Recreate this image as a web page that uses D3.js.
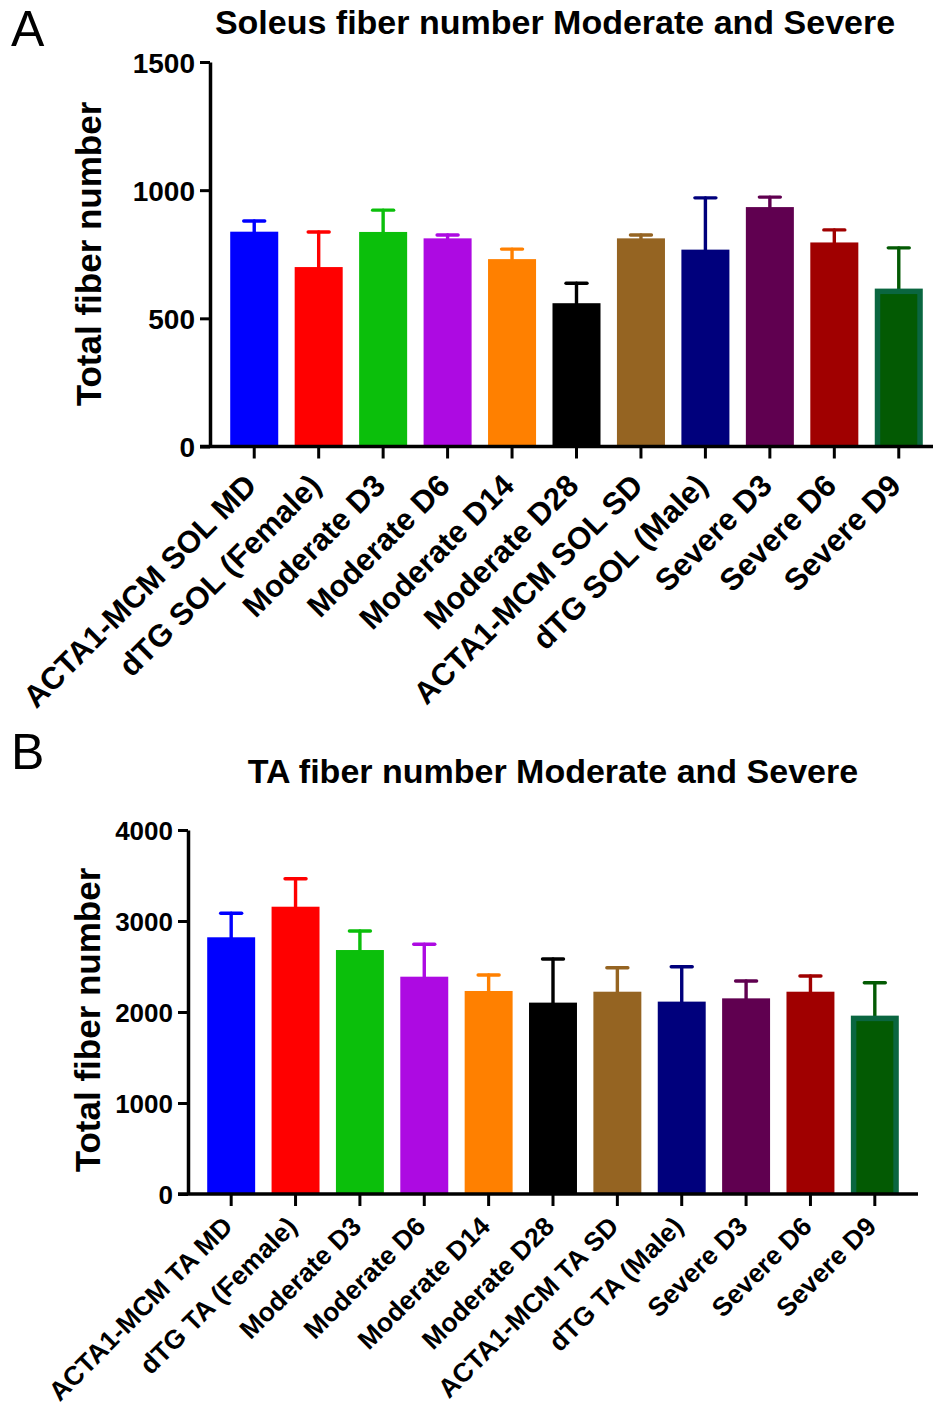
<!DOCTYPE html>
<html>
<head>
<meta charset="utf-8">
<script src="https://cdn.jsdelivr.net/npm/d3@7/dist/d3.min.js"></script>
<style>
  html, body { margin: 0; padding: 0; background: #ffffff; }
  svg { display: block; }
  text { font-family: "Liberation Sans", Arial, Helvetica, sans-serif; fill: #000; }
</style>
</head>
<body>
<svg id="chart" width="933" height="1407"></svg>
<script>
// Soleus (SOL) groups, mean fiber counts and SEM
const solCategories = ["ACTA1-MCM SOL MD", "dTG SOL (Female)", "Moderate D3", "Moderate D6",
  "Moderate D14", "Moderate D28", "ACTA1-MCM SOL SD", "dTG SOL (Male)", "Severe D3", "Severe D6", "Severe D9"];
const solMeans = [838, 700, 837, 812, 731, 559, 812, 768, 934, 796, 616];
const solSem   = [42, 137, 85, 13, 39, 78, 13, 202, 39, 49, 159];
const solTicks = [0, 500, 1000, 1500];

// Tibialis anterior (TA) groups, mean fiber counts and SEM
const taCategories = ["ACTA1-MCM TA MD", "dTG TA (Female)", "Moderate D3", "Moderate D6",
  "Moderate D14", "Moderate D28", "ACTA1-MCM TA SD", "dTG TA (Male)", "Severe D3", "Severe D6", "Severe D9"];
const taMeans = [2821, 3157, 2681, 2388, 2231, 2103, 2223, 2114, 2150, 2223, 1960];
const taSem   = [264, 308, 209, 356, 176, 479, 264, 384, 191, 173, 362];
const taTicks = [0, 1000, 2000, 3000, 4000];

// one colour per group (same order in both panels)
const barColors = ["#0000ff", "#ff0000", "#0bbf0b", "#ad0ae2", "#ff8000", "#000000",
  "#956422", "#00007c", "#600050", "#a00000", "#035a03"];
// the last group is drawn with a contrasting outline
const outlineColors = [null, null, null, null, null, null, null, null, null, null, "#0a6640"];

const svg = d3.select("#chart");

function drawPanel(p) {
  const g = svg.append("g");

  const x = d3.scaleBand()
    .domain(p.categories)
    .range([p.x0, p.x1])
    .paddingInner(0.255)
    .paddingOuter(0.1275);

  const y = d3.scaleLinear()
    .domain([0, p.ticks[p.ticks.length - 1]])
    .range([p.yBottom, p.yTop]);

  const rows = p.categories.map((c, i) => ({
    cat: c, mean: p.means[i], sem: p.sem[i], color: barColors[i], outline: outlineColors[i]
  }));

  // error bars (upper only)
  const eb = g.append("g").attr("stroke-width", 3.4).attr("stroke-linecap", "round");
  rows.forEach(d => {
    const cx = x(d.cat) + x.bandwidth() / 2;
    eb.append("line")
      .attr("x1", cx).attr("x2", cx)
      .attr("y1", y(d.mean)).attr("y2", y(d.mean + d.sem))
      .attr("stroke", d.color);
    eb.append("line")
      .attr("x1", cx - 10.5).attr("x2", cx + 10.5)
      .attr("y1", y(d.mean + d.sem)).attr("y2", y(d.mean + d.sem))
      .attr("stroke", d.color);
  });

  // bars
  const bars = g.append("g");
  rows.forEach(d => {
    const bx = x(d.cat), bw = x.bandwidth();
    const top = y(d.mean), h = y(0) - y(d.mean);
    if (d.outline) {
      const t = 5.5;
      bars.append("rect").attr("x", bx).attr("y", top).attr("width", bw).attr("height", h)
        .attr("fill", d.outline);
      bars.append("rect").attr("x", bx + t).attr("y", top + t).attr("width", bw - 2 * t).attr("height", h - t)
        .attr("fill", d.color);
    } else {
      bars.append("rect").attr("x", bx).attr("y", top).attr("width", bw).attr("height", h)
        .attr("fill", d.color);
    }
  });

  // y axis
  const yAxis = d3.axisLeft(y).tickValues(p.ticks).tickSize(10).tickSizeOuter(0).tickPadding(5)
    .tickFormat(d3.format("d"));
  const ya = g.append("g").attr("transform", `translate(${p.axisX},0)`).call(yAxis);
  ya.select(".domain").attr("stroke", "#000").attr("stroke-width", 3.5);
  ya.selectAll(".tick line").attr("stroke", "#000").attr("stroke-width", 3);
  ya.selectAll(".tick text")
    .attr("font-size", p.tickFont).attr("font-weight", "bold")
    .attr("font-family", '"Liberation Sans", Arial, sans-serif')
    .attr("dy", "0.36em");

  // x axis baseline
  g.append("line")
    .attr("x1", p.axisX - 10).attr("x2", p.xAxisEnd)
    .attr("y1", y(0)).attr("y2", y(0))
    .attr("stroke", "#000").attr("stroke-width", 3.5);

  // x ticks and rotated group labels
  rows.forEach(d => {
    const cx = x(d.cat) + x.bandwidth() / 2;
    g.append("line")
      .attr("x1", cx).attr("x2", cx)
      .attr("y1", y(0)).attr("y2", y(0) + 12)
      .attr("stroke", "#000").attr("stroke-width", 3);
    g.append("text")
      .attr("transform", `translate(${cx + p.labelDx},${y(0) + p.labelDy}) rotate(-45)`)
      .attr("text-anchor", "end")
      .attr("font-size", p.labelFont)
      .attr("font-weight", "bold")
      .text(d.cat);
  });

  // y axis title
  g.append("text")
    .attr("transform", `translate(${p.yTitleX},${p.yTitleY}) rotate(-90)`)
    .attr("text-anchor", "middle")
    .attr("font-size", 35)
    .attr("font-weight", "bold")
    .text("Total fiber number");

  // chart title
  g.append("text")
    .attr("x", p.titleX).attr("y", p.titleY)
    .attr("text-anchor", "middle")
    .attr("font-size", 34)
    .attr("font-weight", "bold")
    .text(p.title);

  // panel letter
  g.append("text")
    .attr("x", p.letterX).attr("y", p.letterY)
    .attr("font-size", 50)
    .text(p.letter);
}

drawPanel({
  categories: solCategories, means: solMeans, sem: solSem, ticks: solTicks,
  x0: 222, x1: 931, yTop: 62, yBottom: 446.5, axisX: 210, xAxisEnd: 933,
  tickFont: 28, labelFont: 31, labelDx: 4, labelDy: 41,
  yTitleX: 101, yTitleY: 254,
  title: "Soleus fiber number Moderate and Severe", titleX: 555, titleY: 34,
  letter: "A", letterX: 11, letterY: 46
});

drawPanel({
  categories: taCategories, means: taMeans, sem: taSem, ticks: taTicks,
  x0: 199, x1: 907, yTop: 830, yBottom: 1194, axisX: 188, xAxisEnd: 918,
  tickFont: 26, labelFont: 26.5, labelDx: 3, labelDy: 34,
  yTitleX: 100, yTitleY: 1020,
  title: "TA fiber number Moderate and Severe", titleX: 553, titleY: 783,
  letter: "B", letterX: 11, letterY: 769
});
</script>
</body>
</html>
